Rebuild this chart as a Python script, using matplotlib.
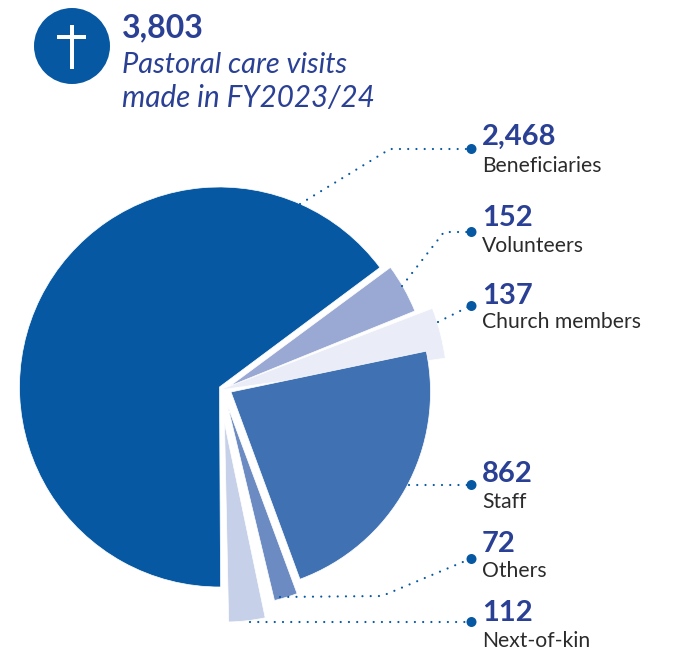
import matplotlib
matplotlib.use('Agg')
import matplotlib.pyplot as plt
from matplotlib.patches import Circle, Rectangle

categories = ['Beneficiaries', 'Volunteers', 'Church members', 'Staff', 'Others', 'Next-of-kin']
visits = [2468, 152, 137, 862, 72, 112]
colors = ['#0758a3', '#99a9d4', '#eaedf7', '#3f71b3', '#6c8bc2', '#c6d0e9']
total_visits = 3803
title_lines = ['Pastoral care visits', 'made in FY2023/24']

W, H = 677, 651
NAVY = '#2a4094'
BLUE = '#0758a3'
GREY = '#2b2b2b'

plt.rcParams['font.family'] = ['Lato', 'DejaVu Sans']

fig = plt.figure(figsize=(W / 100, H / 100), dpi=100)
ax = fig.add_axes([0, 0, 1, 1])


# layout is worked out in pixels from the top left corner
def flip(y):
    return H - y


wedges, _ = ax.pie(visits, colors=colors, startangle=-90, counterclock=False, frame=True)

# each slice gets pulled out on its own: centre x, centre y, radius, extra rotation, draw order
slice_layout = [
    (219.5, 387.0, 200.0, 0.3, 5),
    (230.0, 386.0, 199.5, 0.1, 4),
    (219.5, 390.0, 228.0, -1.0, 1),
    (231.0, 392.0, 199.5, 2.8, 4),
    (228.0, 407.0, 199.0, 2.9, 3),
    (224.5, 423.0, 199.0, 1.2, 2),
]
for wedge, (cx, cy, r, turn, z) in zip(wedges, slice_layout):
    wedge.set_center((cx, flip(cy)))
    wedge.set_radius(r)
    wedge.set_theta1(wedge.theta1 + turn)
    wedge.set_theta2(wedge.theta2 + turn)
    wedge.set_edgecolor('white')
    wedge.set_linewidth(0.5)
    wedge.set_zorder(z)

ax.set_xlim(0, W)
ax.set_ylim(0, H)
ax.set_aspect('equal')
ax.axis('off')

# dotted leader lines, each ending in a round dot next to its label
leaders = [
    ([300, 390, 470], [204, 149, 149]),
    ([402, 444, 470], [286, 232, 232]),
    ([438, 470], [322, 306]),
    ([409, 470], [485, 485]),
    ([280, 382, 470], [597, 596, 559]),
    ([250, 470], [622, 622]),
]
for xs, ys in leaders:
    ax.plot(xs, [flip(y) for y in ys], color=BLUE, lw=1.6, dash_capstyle='round',
            linestyle=(0, (0.01, 3.7)), zorder=6)
    ax.add_patch(Circle((xs[-1] + 1.5, flip(ys[-1])), 5, color=BLUE, lw=0, zorder=7))

# value and category name per slice
value_base = [145, 226, 304, 482, 552, 621]
name_base = [172, 252, 328, 508, 577, 647]
for cat, val, vy, ny in zip(categories, visits, value_base, name_base):
    ax.text(482, flip(vy), f'{val:,}', fontsize=21, fontweight='bold', color=NAVY, va='baseline')
    ax.text(482, flip(ny), cat, fontsize=15.2, color=GREY, va='baseline')

# heading with the cross badge
ax.add_patch(Circle((72, flip(46)), 38, color=BLUE, lw=0, zorder=2))
ax.add_patch(Rectangle((69.5, flip(69)), 4.5, 44, color='white', lw=0, zorder=3))
ax.add_patch(Rectangle((57, flip(39)), 29, 4, color='white', lw=0, zorder=3))

ax.text(122, flip(37), f'{total_visits:,}', fontsize=23, fontweight='bold', color=NAVY, va='baseline')
ax.text(122, flip(73), title_lines[0], fontsize=20.9, style='italic', color=NAVY, va='baseline')
ax.text(122, flip(107), title_lines[1], fontsize=21.3, style='italic', color=NAVY, va='baseline')

fig.savefig('out.png', dpi=100)
